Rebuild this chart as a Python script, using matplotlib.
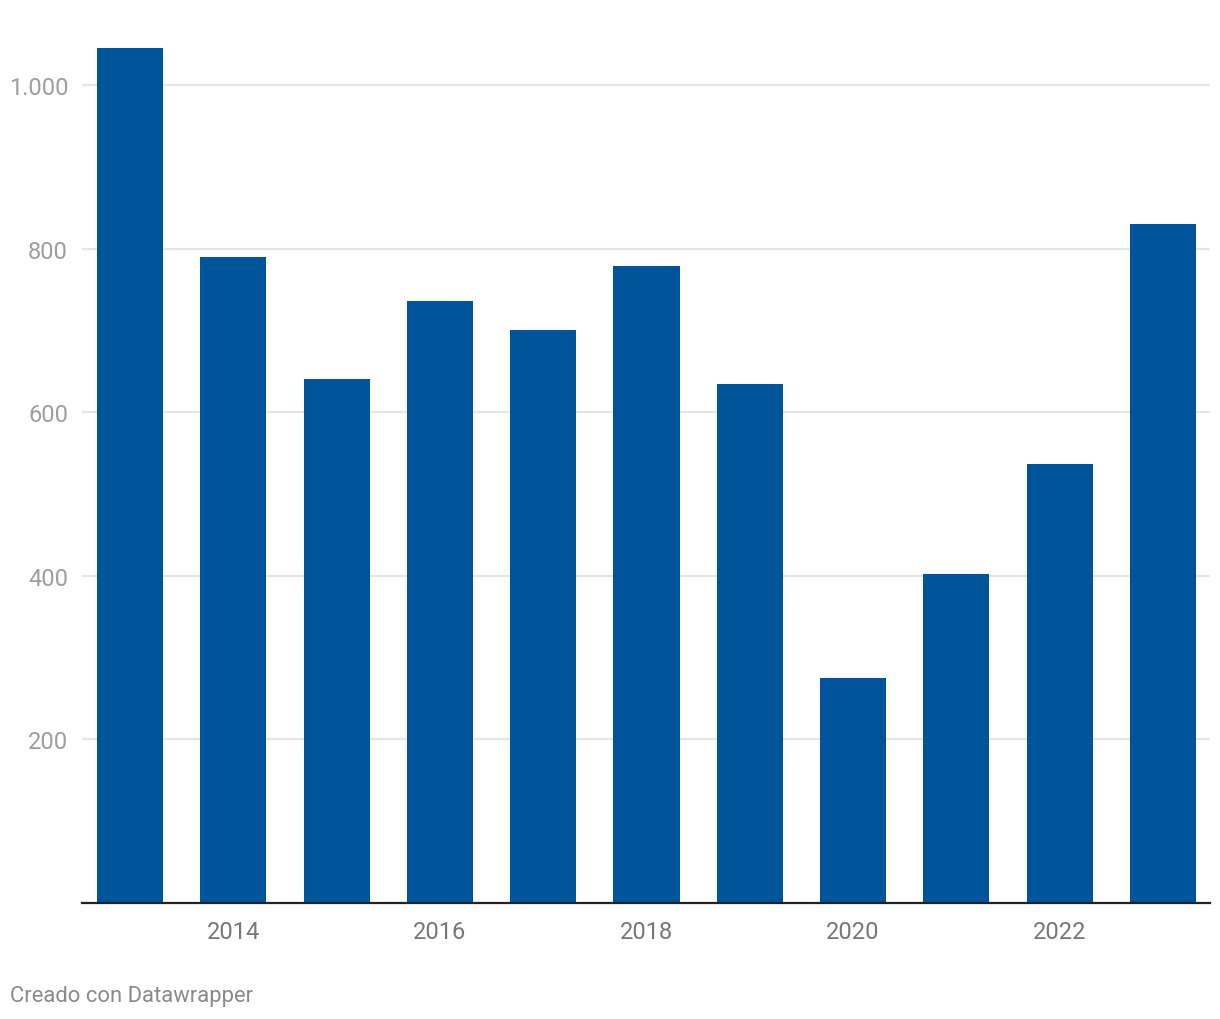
import matplotlib.pyplot as plt

years = [2013, 2014, 2015, 2016, 2017, 2018, 2019, 2020, 2021, 2022, 2023]
values = [1045, 790, 641, 736, 700, 779, 634, 275, 402, 537, 830]
y_ticks = [200, 400, 600, 800, 1000]
y_tick_labels = ["200", "400", "600", "800", "1.000"]
x_tick_years = [2014, 2016, 2018, 2020, 2022]

plt.rcParams['font.family'] = ['Roboto', 'DejaVu Sans']

W, H = 1220, 1020
fig = plt.figure(figsize=(W / 100, H / 100), dpi=100)
ax = fig.add_axes([82 / W, 1 - 904 / H, (1210 - 82) / W, (904 - 31) / H])

ax.bar(years, values, width=0.64, color='#00559a', zorder=2)

ax.set_xlim(years[0] - 0.465, years[-1] + 0.455)
ax.set_ylim(0, 873 / 0.818)

ax.set_yticks(y_ticks)
ax.set_yticklabels(y_tick_labels)
ax.set_xticks(x_tick_years)
ax.set_xticklabels([str(y) for y in x_tick_years])

ax.grid(axis='y', color='#e5e5e5', linewidth=1.6, zorder=0)
ax.tick_params(axis='y', length=0, pad=10, labelsize=17, labelcolor='#9e9e9e')
ax.tick_params(axis='x', length=0, pad=12, labelsize=17, labelcolor='#777777')

for side in ['top', 'right', 'left']:
    ax.spines[side].set_visible(False)
ax.spines['bottom'].set_color('#222222')
ax.spines['bottom'].set_linewidth(1.6)
ax.spines['bottom'].set_zorder(3)

fig.text(10 / W, 1 - 997 / H, "Creado con Datawrapper", fontsize=15.8,
         color='#8a8a8a', va='center', ha='left')

fig.savefig('out.png', dpi=100)
